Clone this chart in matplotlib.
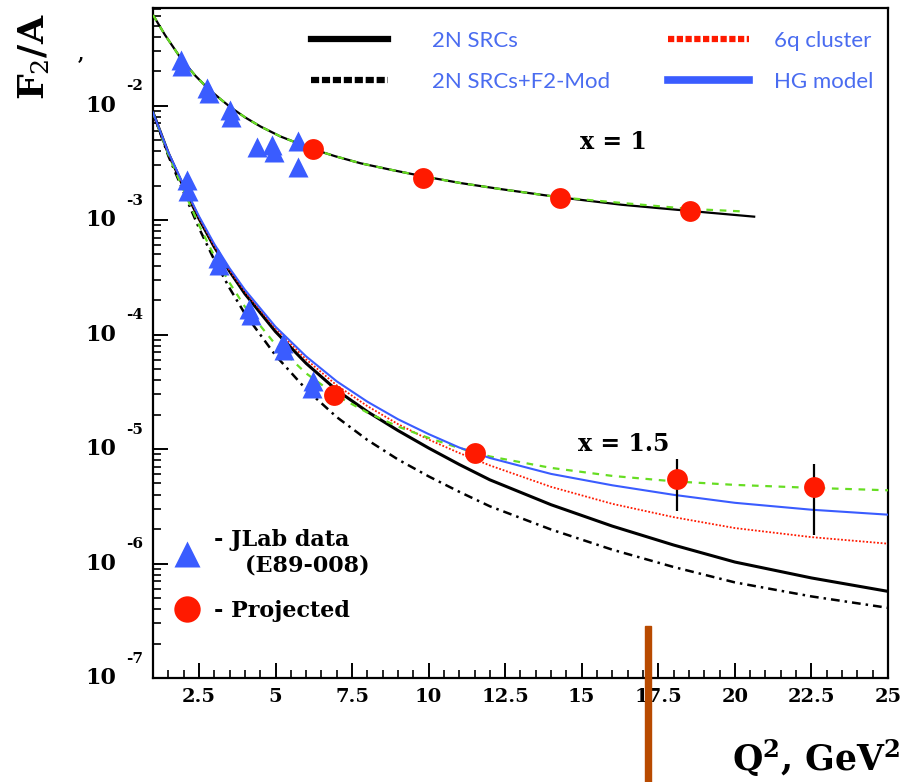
import numpy as np
import matplotlib.pyplot as plt
from matplotlib.lines import Line2D
from matplotlib.patches import Rectangle
from matplotlib import transforms

# ---- x = 1 curves ----
q2_x1 = [1.0, 1.39, 1.92, 2.38, 2.80, 3.20, 3.52, 4.01, 4.51, 5.16, 5.82, 6.24,
         6.96, 7.78, 8.76, 9.82, 11.06, 12.37, 14.27, 16.30, 18.53, 20.63]
src_x1 = [0.0618, 0.0414, 0.0256, 0.01824, 0.01406, 0.01140, 0.00971, 0.00787,
          0.00656, 0.00537, 0.00458, 0.00414, 0.00360, 0.00313, 0.00275,
          0.00241, 0.00210, 0.00186, 0.00158, 0.00136, 0.00120, 0.00107]
q2_x1_green = [1.0, 1.39, 1.92, 2.38, 2.80, 3.20, 3.52, 4.01, 4.51, 5.16, 5.82,
               6.24, 6.96, 7.78, 8.76, 9.82, 11.06, 12.37, 14.27, 16.30, 18.53,
               20.23]
green_x1 = [0.0618, 0.0414, 0.0256, 0.01824, 0.01406, 0.01140, 0.00971, 0.00787,
            0.00656, 0.00537, 0.00458, 0.00414, 0.00360, 0.00313, 0.00275,
            0.00241, 0.00210, 0.00186, 0.00158, 0.00141, 0.00125, 0.00119]

# ---- x = 1.5 curves ----
q2_x15 = [1.0, 1.5, 2.0, 2.5, 3.0, 3.5, 4.0, 5.0, 6.0, 7.0, 8.0, 9.0, 10.0,
          11.0, 12.0, 14.0, 16.0, 18.0, 20.0, 22.5, 25.0]
src_x15 = [8.69e-3, 3.83e-3, 1.94e-3, 1.03e-3, 5.82e-4, 3.57e-4, 2.27e-4,
           1.06e-4, 5.60e-5, 3.26e-5, 2.12e-5, 1.45e-5, 1.02e-5, 7.33e-6,
           5.38e-6, 3.26e-6, 2.12e-6, 1.45e-6, 1.03e-6, 7.48e-7, 5.71e-7]
src_f2mod_x15 = [8.69e-3, 3.64e-3, 1.75e-3, 8.52e-4, 4.49e-4, 2.54e-4, 1.52e-4,
                 6.57e-5, 3.32e-5, 1.90e-5, 1.20e-5, 8.10e-6, 5.77e-6, 4.23e-6,
                 3.16e-6, 1.98e-6, 1.32e-6, 9.32e-7, 6.84e-7, 5.16e-7, 4.10e-7]
sixq_x15 = [8.61e-3, 3.86e-3, 1.98e-3, 1.05e-3, 5.94e-4, 3.64e-4, 2.37e-4,
            1.13e-4, 6.06e-5, 3.60e-5, 2.37e-5, 1.65e-5, 1.21e-5, 9.23e-6,
            7.19e-6, 4.67e-6, 3.32e-6, 2.54e-6, 2.04e-6, 1.70e-6, 1.49e-6]
hg_x15 = [8.69e-3, 3.90e-3, 2.02e-3, 1.08e-3, 6.18e-4, 3.79e-4, 2.46e-4,
          1.17e-4, 6.44e-5, 3.90e-5, 2.59e-5, 1.82e-5, 1.35e-5, 1.03e-5,
          8.35e-6, 6.06e-6, 4.82e-6, 3.98e-6, 3.39e-6, 2.95e-6, 2.67e-6]
green_x15 = [8.69e-3, 3.75e-3, 1.82e-3, 9.05e-4, 4.86e-4, 2.83e-4, 1.75e-4,
             8.18e-5, 4.58e-5, 2.92e-5, 2.08e-5, 1.57e-5, 1.25e-5, 1.02e-5,
             8.61e-6, 6.84e-6, 5.82e-6, 5.22e-6, 4.86e-6, 4.58e-6, 4.36e-6]

# ---- JLab data (E89-008) ----
jlab_q2_x1 = [1.92, 1.95, 2.77, 2.83, 3.52, 3.56, 4.41, 4.87, 4.96, 5.72, 5.75]
jlab_f2_x1 = [0.0251, 0.0223, 0.01436, 0.01297, 0.00905, 0.00802, 0.00431,
              0.00449, 0.00390, 0.00486, 0.00289]
jlab_q2_x15 = [2.11, 2.15, 3.13, 3.16, 4.15, 4.21, 5.26, 5.29, 6.24, 6.18]
jlab_f2_x15 = [2.23e-3, 1.79e-3, 4.67e-4, 4.06e-4, 1.68e-4, 1.49e-4, 8.36e-5,
               7.26e-5, 3.90e-5, 3.39e-5]

# ---- Projected ----
proj_q2_x1 = [6.21, 9.82, 14.28, 18.54]
proj_f2_x1 = [4.14e-3, 2.32e-3, 1.55e-3, 1.20e-3]
proj_q2_x15 = [6.90, 11.52, 18.11, 22.57]
proj_f2_x15 = [2.95e-5, 9.23e-6, 5.48e-6, 4.68e-6]
proj_lo_x15 = [2.95e-5, 9.23e-6, 2.89e-6, 1.79e-6]
proj_hi_x15 = [2.95e-5, 9.23e-6, 8.18e-6, 7.41e-6]

xtick_vals = [2.5, 5, 7.5, 10, 12.5, 15, 17.5, 20, 22.5, 25]
xtick_labels = ['2.5', '5', '7.5', '10', '12.5', '15', '17.5', '20', '22.5', '25']
ydecades = [-2, -3, -4, -5, -6, -7]

legend_left = ['2N SRCs', '2N SRCs+F2-Mod']
legend_right = ['6q cluster', 'HG model']

GREEN = '#66dd22'
BLUE = '#3a5cff'
RED = '#ff1a00'
LEGTXT = '#4a6cf0'
SERIF = 'DejaVu Serif'

plt.rcParams['mathtext.fontset'] = 'dejavuserif'

fig = plt.figure(figsize=(9.02, 7.82), dpi=100)
ax = fig.add_axes([153 / 902, 1 - 678 / 782, 735 / 902, 670 / 782])
ax.set_yscale('log')
ax.set_xlim(1, 25)
ax.set_ylim(1e-7, 0.0711)

# curves, x = 1
ax.plot(q2_x1, src_x1, color='black', lw=1.6, zorder=3)
ax.plot(q2_x1_green, green_x1, color=GREEN, lw=1.6, ls=(0, (3, 3)), zorder=4)

# curves, x = 1.5
ax.plot(q2_x15, src_f2mod_x15, color='black', lw=1.8, ls=(0, (3.5, 2, 1, 2)), zorder=3)
ax.plot(q2_x15, src_x15, color='black', lw=2.2, zorder=3)
ax.plot(q2_x15, sixq_x15, color=RED, lw=1.3, ls=(0, (1, 1)), zorder=3)
ax.plot(q2_x15, green_x15, color=GREEN, lw=1.6, ls=(0, (3, 3)), zorder=4)
ax.plot(q2_x15, hg_x15, color=BLUE, lw=1.5, zorder=4)

# data points
ax.plot(jlab_q2_x1, jlab_f2_x1, ls='none', marker='^', ms=14, color=BLUE,
        mec='none', zorder=5)
ax.plot(jlab_q2_x15, jlab_f2_x15, ls='none', marker='^', ms=14, color=BLUE,
        mec='none', zorder=5)

lo = np.array(proj_f2_x15) - np.array(proj_lo_x15)
hi = np.array(proj_hi_x15) - np.array(proj_f2_x15)
ax.errorbar(proj_q2_x15, proj_f2_x15, yerr=[lo, hi], fmt='none', ecolor='black',
            elinewidth=1.6, capsize=0, zorder=5)
ax.plot(proj_q2_x15, proj_f2_x15, ls='none', marker='o', ms=15, color=RED,
        mec='none', zorder=6)
ax.plot(proj_q2_x1, proj_f2_x1, ls='none', marker='o', ms=15, color=RED,
        mec='none', zorder=6)

# axes styling
for s in ax.spines.values():
    s.set_linewidth(1.6)
ax.set_xticks(xtick_vals)
ax.set_xticklabels(xtick_labels, fontfamily=SERIF, fontweight='bold', fontsize=14)
ax.set_xticks(np.arange(1.5, 25, 0.5), minor=True)
ax.tick_params(axis='x', which='major', direction='in', length=11, width=1.4, pad=7)
ax.tick_params(axis='x', which='minor', direction='in', length=6, width=1.2)
ax.tick_params(axis='y', which='major', direction='in', length=11, width=1.4)
ax.tick_params(axis='y', which='minor', direction='in', length=6, width=1.2)
ax.set_yticks([10.0 ** d for d in ydecades])
ax.set_yticklabels([])
ax.yaxis.set_minor_formatter(plt.NullFormatter())

trans = transforms.blended_transform_factory(ax.transAxes, ax.transData)
for d in ydecades:
    ax.text(-0.071, 10.0 ** d, '10', transform=trans, ha='center', va='center',
            fontfamily=SERIF, fontweight='bold', fontsize=16)
    ax.annotate(str(d), xy=(-0.0245, 10.0 ** d), xycoords=trans,
                xytext=(0, 14), textcoords='offset points', ha='center',
                va='center', fontfamily=SERIF, fontweight='bold', fontsize=11)

# curve labels
ax.text(0.626, 0.80, 'x = 1', transform=ax.transAxes, ha='center', va='center',
        fontfamily=SERIF, fontweight='bold', fontsize=17)
ax.text(0.641, 0.35, 'x = 1.5', transform=ax.transAxes, ha='center', va='center',
        fontfamily=SERIF, fontweight='bold', fontsize=17)

# top legend, two separate columns
leg_style = dict(loc='upper left', frameon=False, borderpad=0, borderaxespad=0,
                 labelspacing=0.95, prop={'family': 'Lato', 'size': 16},
                 labelcolor=LEGTXT)
handles_l = [
    Line2D([], [], color='black', lw=4.5),
    Line2D([], [], color='black', lw=4.5, ls=(0, (1.3, 0.45))),
]
leg_l = ax.legend(handles_l, legend_left, bbox_to_anchor=(0.215, 0.966),
                  handlelength=3.45, handletextpad=2.0, **leg_style)
ax.add_artist(leg_l)
handles_r = [
    Line2D([], [], color=RED, lw=4.5, ls=(0, (1.0, 0.4))),
    Line2D([], [], color=BLUE, lw=5.5),
]
leg_r = ax.legend(handles_r, legend_right, bbox_to_anchor=(0.7007, 0.966),
                  handlelength=3.65, handletextpad=1.1, **leg_style)
ax.add_artist(leg_r)

# bottom-left legend
handles2 = [
    Line2D([], [], ls='none', marker='^', ms=19, color=BLUE, mec='none'),
    Line2D([], [], ls='none', marker='o', ms=19, color=RED, mec='none'),
]
ax.legend(handles2, ['- JLab data\n    (E89-008)', '- Projected'], loc='upper left',
          bbox_to_anchor=(0.028, 0.222), frameon=False, borderpad=0,
          borderaxespad=0, handlelength=1.2, handletextpad=0.6,
          labelspacing=1.05,
          prop={'family': SERIF, 'weight': 'bold', 'size': 16})

# axis titles
fig.text(34 / 902, 1 - 57 / 782, r'F$_2$/A', rotation=90, ha='center',
         va='center', fontfamily=SERIF, fontweight='bold', fontsize=26)
fig.text(81 / 902, 1 - 55 / 782, ',', ha='center', va='center',
         fontfamily=SERIF, fontweight='bold', fontsize=13)
fig.text(900 / 902, 1 - 758 / 782, r'$\mathbf{Q^2,\,GeV^2}$', ha='right',
         va='center', fontsize=25)

# orange marker bar over the figure
fig.patches.append(Rectangle((645 / 902, 0), 6 / 902, 1 - 626 / 782,
                             transform=fig.transFigure, color='#b84a00',
                             zorder=10))

fig.savefig('out.png', dpi=100)
